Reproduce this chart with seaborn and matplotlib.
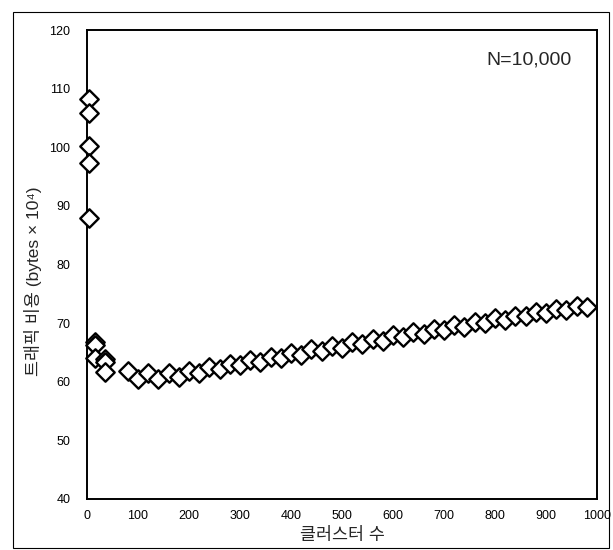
import numpy as np
import pandas as pd
import seaborn as sns
import matplotlib.pyplot as plt
from matplotlib.patches import Rectangle

# values
clusters = [3, 3, 3, 3, 3,
            15, 15, 15,
            35, 35, 35,
            80, 100, 120, 140, 160, 180, 200, 220, 240, 260,
            280, 300, 320, 340, 360, 380, 400, 420, 440, 460,
            480, 500, 520, 540, 560, 580, 600, 620, 640, 660,
            680, 700, 720, 740, 760, 780, 800, 820, 840, 860,
            880, 900, 920, 940, 960, 980]
cost = [108.3, 105.8, 100.3, 97.4, 88.0,
        66.8, 66.3, 64.0,
        63.8, 63.3, 61.6,
        61.9, 60.5, 61.5, 60.5, 61.5, 60.8, 61.9, 61.5, 62.5, 62.2,
        63.1, 62.8, 63.7, 63.4, 64.3, 64.0, 64.9, 64.6, 65.5, 65.2,
        66.1, 65.8, 66.7, 66.4, 67.3, 67.0, 67.9, 67.6, 68.4, 68.2,
        69.0, 68.8, 69.6, 69.4, 70.2, 70.0, 70.8, 70.6, 71.3, 71.2,
        71.9, 71.7, 72.4, 72.3, 72.9, 72.8]
x_ticks = [0, 100, 200, 300, 400, 500, 600, 700, 800, 900, 1000]
y_ticks = [40, 50, 60, 70, 80, 90, 100, 110, 120]

df = pd.DataFrame({"clusters": clusters, "cost": cost})

sns.set_style("white")
plt.rcParams["font.family"] = ["Liberation Sans", "Noto Sans CJK KR", "DejaVu Sans"]

fig = plt.figure(figsize=(6.13, 5.5), dpi=100)
ax = fig.add_axes([0.142, 0.093, 0.832, 0.852])

sns.scatterplot(data=df, x="clusters", y="cost", ax=ax, marker="D", s=88,
                facecolor="white", edgecolor="black", linewidth=1.7, zorder=3,
                clip_on=False)

ax.set_xlim(0, 1000)
ax.set_ylim(40, 120)
ax.set_xticks(x_ticks)
ax.set_yticks(y_ticks)
ax.tick_params(length=0, labelsize=9, colors="black")
ax.tick_params(axis="y", pad=12)
ax.tick_params(axis="x", pad=8)
for sp in ax.spines.values():
    sp.set_color("black")
    sp.set_linewidth(1.4)

ax.set_xlabel("클러스터 수", fontsize=12.5)
ax.xaxis.set_label_coords(0.5, -0.06)
ax.set_ylabel("트래픽 비용 (bytes × 10⁴)", fontsize=12.5)
ax.yaxis.set_label_coords(-0.088, 0.465)

ax.text(0.951, 0.936, "N=10,000", transform=ax.transAxes, ha="right",
        va="center", fontsize=14)

# thin frame around the whole figure
fig.patches.append(Rectangle((0.021, 0.004), 0.972, 0.974, transform=fig.transFigure,
                             fill=False, edgecolor="black", linewidth=0.8))

fig.savefig("out.png", dpi=100)
